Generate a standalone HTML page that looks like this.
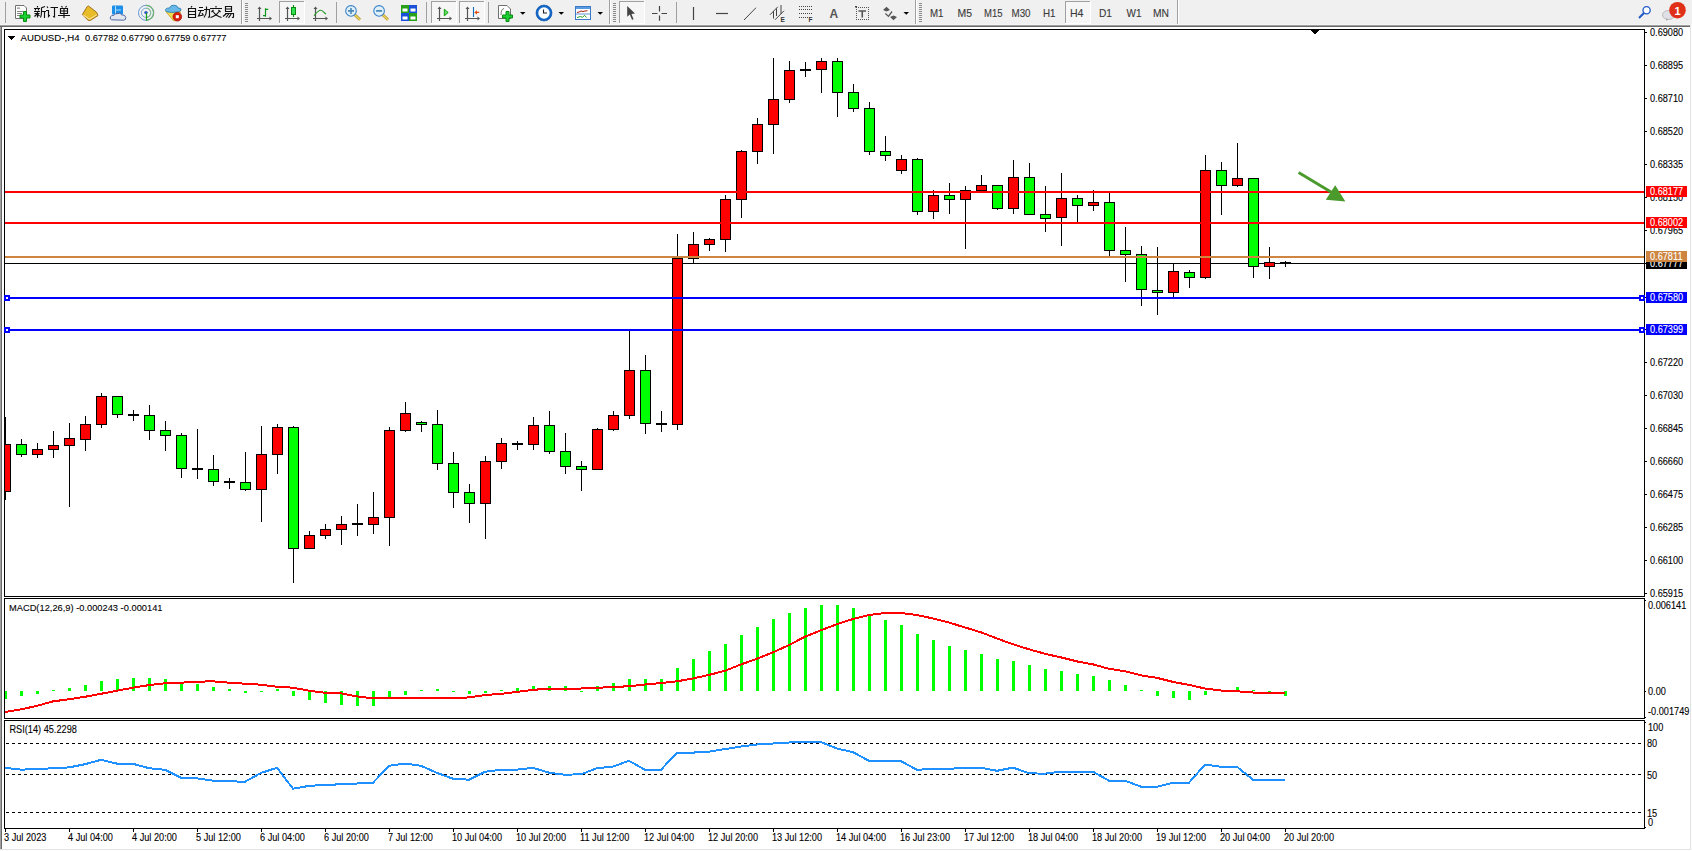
<!DOCTYPE html>
<html><head><meta charset="utf-8"><style>
html,body{margin:0;padding:0;width:1692px;height:851px;overflow:hidden;background:#f0f0f0;}
svg{position:absolute;left:0;top:0;}
text{font-family:"Liberation Sans",sans-serif;font-size:9.5px;white-space:pre;stroke-width:0.1px;}
</style></head><body>
<svg width="1692" height="851" viewBox="0 0 1692 851" shape-rendering="crispEdges">
<rect x="0" y="0" width="1692" height="24" fill="#f0f0f0"/>
<rect x="0" y="24" width="1692" height="1" fill="#f5f5f5"/>
<rect x="0" y="25" width="1690" height="1" fill="#a0a0a0"/>
<rect x="0" y="26" width="1690" height="1" fill="#696969"/>
<rect x="0" y="27" width="1" height="822" fill="#a0a0a0"/>
<rect x="1" y="27" width="1" height="822" fill="#696969"/>
<rect x="2" y="27" width="1688" height="822" fill="#fff"/>
<rect x="1690" y="25" width="1" height="825" fill="#e3e3e3"/>
<rect x="1691" y="25" width="1" height="826" fill="#fcfcfc"/>
<rect x="0" y="849" width="1691" height="1" fill="#e3e3e3"/>
<rect x="0" y="850" width="1692" height="1" fill="#fff"/>
<rect x="4" y="29" width="1641" height="568" fill="#fff"/>
<path d="M4.5 29.5H1644.5V596.5H4.5Z" fill="none" stroke="#000"/>
<path d="M4.5 598.5H1644.5V718.5H4.5Z" fill="none" stroke="#000"/>
<path d="M4.5 720.5H1644.5V828.5H4.5Z" fill="none" stroke="#000"/>
<defs><clipPath id="cm"><rect x="5" y="30" width="1639" height="566"/></clipPath><clipPath id="cmacd"><rect x="5" y="599" width="1639" height="119"/></clipPath><clipPath id="crsi"><rect x="5" y="721" width="1639" height="107"/></clipPath></defs>
<g clip-path="url(#cm)">
<rect x="5" y="263" width="1639" height="1" fill="#000"/>
<rect x="5" y="417" width="1" height="83" fill="#000"/>
<rect x="0" y="444" width="11" height="48" fill="#000"/>
<rect x="1" y="445" width="9" height="46" fill="#f00"/>
<rect x="21" y="439" width="1" height="18" fill="#000"/>
<rect x="16" y="444" width="11" height="11" fill="#000"/>
<rect x="17" y="445" width="9" height="9" fill="#0f0"/>
<rect x="37" y="443" width="1" height="15" fill="#000"/>
<rect x="32" y="449" width="11" height="6" fill="#000"/>
<rect x="33" y="450" width="9" height="4" fill="#f00"/>
<rect x="53" y="431" width="1" height="27" fill="#000"/>
<rect x="48" y="445" width="11" height="5" fill="#000"/>
<rect x="49" y="446" width="9" height="3" fill="#f00"/>
<rect x="69" y="423" width="1" height="84" fill="#000"/>
<rect x="64" y="438" width="11" height="8" fill="#000"/>
<rect x="65" y="439" width="9" height="6" fill="#f00"/>
<rect x="85" y="416" width="1" height="35" fill="#000"/>
<rect x="80" y="424" width="11" height="16" fill="#000"/>
<rect x="81" y="425" width="9" height="14" fill="#f00"/>
<rect x="101" y="393" width="1" height="35" fill="#000"/>
<rect x="96" y="396" width="11" height="29" fill="#000"/>
<rect x="97" y="397" width="9" height="27" fill="#f00"/>
<rect x="117" y="396" width="1" height="22" fill="#000"/>
<rect x="112" y="396" width="11" height="19" fill="#000"/>
<rect x="113" y="397" width="9" height="17" fill="#0f0"/>
<rect x="133" y="410" width="1" height="11" fill="#000"/>
<rect x="128" y="414" width="11" height="2" fill="#000"/>
<rect x="149" y="405" width="1" height="35" fill="#000"/>
<rect x="144" y="415" width="11" height="16" fill="#000"/>
<rect x="145" y="416" width="9" height="14" fill="#0f0"/>
<rect x="165" y="421" width="1" height="30" fill="#000"/>
<rect x="160" y="430" width="11" height="6" fill="#000"/>
<rect x="161" y="431" width="9" height="4" fill="#0f0"/>
<rect x="181" y="433" width="1" height="45" fill="#000"/>
<rect x="176" y="435" width="11" height="34" fill="#000"/>
<rect x="177" y="436" width="9" height="32" fill="#0f0"/>
<rect x="197" y="429" width="1" height="50" fill="#000"/>
<rect x="192" y="468" width="11" height="2" fill="#000"/>
<rect x="213" y="455" width="1" height="31" fill="#000"/>
<rect x="208" y="469" width="11" height="13" fill="#000"/>
<rect x="209" y="470" width="9" height="11" fill="#0f0"/>
<rect x="229" y="478" width="1" height="11" fill="#000"/>
<rect x="224" y="481" width="11" height="2" fill="#000"/>
<rect x="245" y="452" width="1" height="39" fill="#000"/>
<rect x="240" y="482" width="11" height="8" fill="#000"/>
<rect x="241" y="483" width="9" height="6" fill="#0f0"/>
<rect x="261" y="426" width="1" height="96" fill="#000"/>
<rect x="256" y="454" width="11" height="36" fill="#000"/>
<rect x="257" y="455" width="9" height="34" fill="#f00"/>
<rect x="277" y="424" width="1" height="50" fill="#000"/>
<rect x="272" y="427" width="11" height="28" fill="#000"/>
<rect x="273" y="428" width="9" height="26" fill="#f00"/>
<rect x="293" y="426" width="1" height="157" fill="#000"/>
<rect x="288" y="427" width="11" height="122" fill="#000"/>
<rect x="289" y="428" width="9" height="120" fill="#0f0"/>
<rect x="309" y="531" width="1" height="18" fill="#000"/>
<rect x="304" y="535" width="11" height="14" fill="#000"/>
<rect x="305" y="536" width="9" height="12" fill="#f00"/>
<rect x="325" y="524" width="1" height="15" fill="#000"/>
<rect x="320" y="529" width="11" height="7" fill="#000"/>
<rect x="321" y="530" width="9" height="5" fill="#f00"/>
<rect x="341" y="516" width="1" height="29" fill="#000"/>
<rect x="336" y="524" width="11" height="6" fill="#000"/>
<rect x="337" y="525" width="9" height="4" fill="#f00"/>
<rect x="357" y="504" width="1" height="32" fill="#000"/>
<rect x="352" y="523" width="11" height="2" fill="#000"/>
<rect x="373" y="492" width="1" height="42" fill="#000"/>
<rect x="368" y="517" width="11" height="8" fill="#000"/>
<rect x="369" y="518" width="9" height="6" fill="#f00"/>
<rect x="389" y="427" width="1" height="119" fill="#000"/>
<rect x="384" y="430" width="11" height="88" fill="#000"/>
<rect x="385" y="431" width="9" height="86" fill="#f00"/>
<rect x="405" y="402" width="1" height="30" fill="#000"/>
<rect x="400" y="413" width="11" height="18" fill="#000"/>
<rect x="401" y="414" width="9" height="16" fill="#f00"/>
<rect x="421" y="421" width="1" height="11" fill="#000"/>
<rect x="416" y="422" width="11" height="3" fill="#000"/>
<rect x="417" y="423" width="9" height="1" fill="#0f0"/>
<rect x="437" y="410" width="1" height="60" fill="#000"/>
<rect x="432" y="424" width="11" height="40" fill="#000"/>
<rect x="433" y="425" width="9" height="38" fill="#0f0"/>
<rect x="453" y="452" width="1" height="56" fill="#000"/>
<rect x="448" y="463" width="11" height="30" fill="#000"/>
<rect x="449" y="464" width="9" height="28" fill="#0f0"/>
<rect x="469" y="484" width="1" height="39" fill="#000"/>
<rect x="464" y="492" width="11" height="12" fill="#000"/>
<rect x="465" y="493" width="9" height="10" fill="#0f0"/>
<rect x="485" y="456" width="1" height="83" fill="#000"/>
<rect x="480" y="461" width="11" height="43" fill="#000"/>
<rect x="481" y="462" width="9" height="41" fill="#f00"/>
<rect x="501" y="438" width="1" height="31" fill="#000"/>
<rect x="496" y="443" width="11" height="19" fill="#000"/>
<rect x="497" y="444" width="9" height="17" fill="#f00"/>
<rect x="517" y="441" width="1" height="9" fill="#000"/>
<rect x="512" y="443" width="11" height="2" fill="#000"/>
<rect x="533" y="417" width="1" height="33" fill="#000"/>
<rect x="528" y="425" width="11" height="20" fill="#000"/>
<rect x="529" y="426" width="9" height="18" fill="#f00"/>
<rect x="549" y="411" width="1" height="43" fill="#000"/>
<rect x="544" y="425" width="11" height="27" fill="#000"/>
<rect x="545" y="426" width="9" height="25" fill="#0f0"/>
<rect x="565" y="433" width="1" height="41" fill="#000"/>
<rect x="560" y="451" width="11" height="16" fill="#000"/>
<rect x="561" y="452" width="9" height="14" fill="#0f0"/>
<rect x="581" y="461" width="1" height="30" fill="#000"/>
<rect x="576" y="466" width="11" height="4" fill="#000"/>
<rect x="577" y="467" width="9" height="2" fill="#0f0"/>
<rect x="597" y="428" width="1" height="42" fill="#000"/>
<rect x="592" y="429" width="11" height="41" fill="#000"/>
<rect x="593" y="430" width="9" height="39" fill="#f00"/>
<rect x="613" y="411" width="1" height="20" fill="#000"/>
<rect x="608" y="415" width="11" height="15" fill="#000"/>
<rect x="609" y="416" width="9" height="13" fill="#f00"/>
<rect x="629" y="331" width="1" height="88" fill="#000"/>
<rect x="624" y="370" width="11" height="46" fill="#000"/>
<rect x="625" y="371" width="9" height="44" fill="#f00"/>
<rect x="645" y="355" width="1" height="79" fill="#000"/>
<rect x="640" y="370" width="11" height="54" fill="#000"/>
<rect x="641" y="371" width="9" height="52" fill="#0f0"/>
<rect x="661" y="411" width="1" height="21" fill="#000"/>
<rect x="656" y="423" width="11" height="2" fill="#000"/>
<rect x="677" y="234" width="1" height="196" fill="#000"/>
<rect x="672" y="258" width="11" height="167" fill="#000"/>
<rect x="673" y="259" width="9" height="165" fill="#f00"/>
<rect x="693" y="232" width="1" height="31" fill="#000"/>
<rect x="688" y="244" width="11" height="15" fill="#000"/>
<rect x="689" y="245" width="9" height="13" fill="#f00"/>
<rect x="709" y="238" width="1" height="13" fill="#000"/>
<rect x="704" y="239" width="11" height="6" fill="#000"/>
<rect x="705" y="240" width="9" height="4" fill="#f00"/>
<rect x="725" y="195" width="1" height="57" fill="#000"/>
<rect x="720" y="199" width="11" height="41" fill="#000"/>
<rect x="721" y="200" width="9" height="39" fill="#f00"/>
<rect x="741" y="150" width="1" height="68" fill="#000"/>
<rect x="736" y="151" width="11" height="49" fill="#000"/>
<rect x="737" y="152" width="9" height="47" fill="#f00"/>
<rect x="757" y="118" width="1" height="46" fill="#000"/>
<rect x="752" y="124" width="11" height="28" fill="#000"/>
<rect x="753" y="125" width="9" height="26" fill="#f00"/>
<rect x="773" y="58" width="1" height="96" fill="#000"/>
<rect x="768" y="99" width="11" height="26" fill="#000"/>
<rect x="769" y="100" width="9" height="24" fill="#f00"/>
<rect x="789" y="61" width="1" height="42" fill="#000"/>
<rect x="784" y="70" width="11" height="30" fill="#000"/>
<rect x="785" y="71" width="9" height="28" fill="#f00"/>
<rect x="805" y="62" width="1" height="15" fill="#000"/>
<rect x="800" y="69" width="11" height="2" fill="#000"/>
<rect x="821" y="58" width="1" height="35" fill="#000"/>
<rect x="816" y="61" width="11" height="9" fill="#000"/>
<rect x="817" y="62" width="9" height="7" fill="#f00"/>
<rect x="837" y="58" width="1" height="59" fill="#000"/>
<rect x="832" y="61" width="11" height="32" fill="#000"/>
<rect x="833" y="62" width="9" height="30" fill="#0f0"/>
<rect x="853" y="84" width="1" height="28" fill="#000"/>
<rect x="848" y="92" width="11" height="17" fill="#000"/>
<rect x="849" y="93" width="9" height="15" fill="#0f0"/>
<rect x="869" y="102" width="1" height="53" fill="#000"/>
<rect x="864" y="108" width="11" height="44" fill="#000"/>
<rect x="865" y="109" width="9" height="42" fill="#0f0"/>
<rect x="885" y="136" width="1" height="25" fill="#000"/>
<rect x="880" y="151" width="11" height="5" fill="#000"/>
<rect x="881" y="152" width="9" height="3" fill="#0f0"/>
<rect x="901" y="155" width="1" height="19" fill="#000"/>
<rect x="896" y="159" width="11" height="12" fill="#000"/>
<rect x="897" y="160" width="9" height="10" fill="#f00"/>
<rect x="917" y="158" width="1" height="57" fill="#000"/>
<rect x="912" y="159" width="11" height="53" fill="#000"/>
<rect x="913" y="160" width="9" height="51" fill="#0f0"/>
<rect x="933" y="190" width="1" height="29" fill="#000"/>
<rect x="928" y="195" width="11" height="17" fill="#000"/>
<rect x="929" y="196" width="9" height="15" fill="#f00"/>
<rect x="949" y="183" width="1" height="31" fill="#000"/>
<rect x="944" y="195" width="11" height="5" fill="#000"/>
<rect x="945" y="196" width="9" height="3" fill="#0f0"/>
<rect x="965" y="186" width="1" height="63" fill="#000"/>
<rect x="960" y="190" width="11" height="10" fill="#000"/>
<rect x="961" y="191" width="9" height="8" fill="#f00"/>
<rect x="981" y="175" width="1" height="16" fill="#000"/>
<rect x="976" y="185" width="11" height="6" fill="#000"/>
<rect x="977" y="186" width="9" height="4" fill="#f00"/>
<rect x="997" y="185" width="1" height="25" fill="#000"/>
<rect x="992" y="185" width="11" height="24" fill="#000"/>
<rect x="993" y="186" width="9" height="22" fill="#0f0"/>
<rect x="1013" y="160" width="1" height="54" fill="#000"/>
<rect x="1008" y="177" width="11" height="32" fill="#000"/>
<rect x="1009" y="178" width="9" height="30" fill="#f00"/>
<rect x="1029" y="163" width="1" height="52" fill="#000"/>
<rect x="1024" y="177" width="11" height="38" fill="#000"/>
<rect x="1025" y="178" width="9" height="36" fill="#0f0"/>
<rect x="1045" y="186" width="1" height="46" fill="#000"/>
<rect x="1040" y="214" width="11" height="5" fill="#000"/>
<rect x="1041" y="215" width="9" height="3" fill="#0f0"/>
<rect x="1061" y="173" width="1" height="73" fill="#000"/>
<rect x="1056" y="198" width="11" height="20" fill="#000"/>
<rect x="1057" y="199" width="9" height="18" fill="#f00"/>
<rect x="1077" y="195" width="1" height="27" fill="#000"/>
<rect x="1072" y="198" width="11" height="8" fill="#000"/>
<rect x="1073" y="199" width="9" height="6" fill="#0f0"/>
<rect x="1093" y="190" width="1" height="21" fill="#000"/>
<rect x="1088" y="202" width="11" height="4" fill="#000"/>
<rect x="1089" y="203" width="9" height="2" fill="#f00"/>
<rect x="1109" y="193" width="1" height="63" fill="#000"/>
<rect x="1104" y="202" width="11" height="49" fill="#000"/>
<rect x="1105" y="203" width="9" height="47" fill="#0f0"/>
<rect x="1125" y="227" width="1" height="55" fill="#000"/>
<rect x="1120" y="250" width="11" height="5" fill="#000"/>
<rect x="1121" y="251" width="9" height="3" fill="#0f0"/>
<rect x="1141" y="246" width="1" height="60" fill="#000"/>
<rect x="1136" y="254" width="11" height="36" fill="#000"/>
<rect x="1137" y="255" width="9" height="34" fill="#0f0"/>
<rect x="1157" y="247" width="1" height="68" fill="#000"/>
<rect x="1152" y="290" width="11" height="3" fill="#000"/>
<rect x="1153" y="291" width="9" height="1" fill="#0f0"/>
<rect x="1173" y="264" width="1" height="33" fill="#000"/>
<rect x="1168" y="271" width="11" height="22" fill="#000"/>
<rect x="1169" y="272" width="9" height="20" fill="#f00"/>
<rect x="1189" y="270" width="1" height="18" fill="#000"/>
<rect x="1184" y="272" width="11" height="6" fill="#000"/>
<rect x="1185" y="273" width="9" height="4" fill="#0f0"/>
<rect x="1205" y="155" width="1" height="124" fill="#000"/>
<rect x="1200" y="170" width="11" height="108" fill="#000"/>
<rect x="1201" y="171" width="9" height="106" fill="#f00"/>
<rect x="1221" y="162" width="1" height="53" fill="#000"/>
<rect x="1216" y="170" width="11" height="16" fill="#000"/>
<rect x="1217" y="171" width="9" height="14" fill="#0f0"/>
<rect x="1237" y="143" width="1" height="44" fill="#000"/>
<rect x="1232" y="178" width="11" height="8" fill="#000"/>
<rect x="1233" y="179" width="9" height="6" fill="#f00"/>
<rect x="1253" y="178" width="1" height="100" fill="#000"/>
<rect x="1248" y="178" width="11" height="89" fill="#000"/>
<rect x="1249" y="179" width="9" height="87" fill="#0f0"/>
<rect x="1269" y="247" width="1" height="32" fill="#000"/>
<rect x="1264" y="262" width="11" height="5" fill="#000"/>
<rect x="1265" y="263" width="9" height="3" fill="#f00"/>
<rect x="1285" y="261" width="1" height="6" fill="#000"/>
<rect x="1280" y="262" width="11" height="2" fill="#000"/>
<rect x="5" y="191" width="1639" height="2" fill="#f00"/>
<rect x="5" y="222" width="1639" height="2" fill="#f00"/>
<rect x="5" y="256" width="1639" height="2" fill="#cd853f"/>
<rect x="5" y="297" width="1639" height="2" fill="#00f"/>
<rect x="5" y="329" width="1639" height="2" fill="#00f"/>
</g>
<rect x="4" y="295" width="6" height="6" fill="#00f"/><rect x="6" y="297" width="2" height="2" fill="#fff"/>
<rect x="1639" y="295" width="6" height="6" fill="#00f"/><rect x="1641" y="297" width="2" height="2" fill="#fff"/>
<rect x="4" y="327" width="6" height="6" fill="#00f"/><rect x="6" y="329" width="2" height="2" fill="#fff"/>
<rect x="1639" y="327" width="6" height="6" fill="#00f"/><rect x="1641" y="329" width="2" height="2" fill="#fff"/>
<path d="M1310 29H1320L1315 35Z" fill="#000"/>
<line x1="1298.6" y1="172.6" x2="1331" y2="192" stroke="#4a9a2c" stroke-width="2.9" shape-rendering="geometricPrecision"/>
<path d="M1335.2 185.2L1325.8 199.8L1345.4 201.4Z" fill="#4a9a2c" shape-rendering="geometricPrecision"/>
<g clip-path="url(#cmacd)">
<rect x="4" y="691" width="3" height="8" fill="#0f0"/>
<rect x="20" y="691" width="3" height="5" fill="#0f0"/>
<rect x="36" y="691" width="3" height="3" fill="#0f0"/>
<rect x="52" y="690" width="3" height="1" fill="#0f0"/>
<rect x="68" y="688" width="3" height="3" fill="#0f0"/>
<rect x="84" y="685" width="3" height="6" fill="#0f0"/>
<rect x="100" y="681" width="3" height="10" fill="#0f0"/>
<rect x="116" y="679" width="3" height="12" fill="#0f0"/>
<rect x="132" y="678" width="3" height="13" fill="#0f0"/>
<rect x="148" y="678" width="3" height="13" fill="#0f0"/>
<rect x="164" y="679" width="3" height="12" fill="#0f0"/>
<rect x="180" y="683" width="3" height="8" fill="#0f0"/>
<rect x="196" y="684" width="3" height="7" fill="#0f0"/>
<rect x="212" y="687" width="3" height="4" fill="#0f0"/>
<rect x="228" y="689" width="3" height="2" fill="#0f0"/>
<rect x="244" y="691" width="3" height="2" fill="#0f0"/>
<rect x="260" y="691" width="3" height="1" fill="#0f0"/>
<rect x="276" y="689" width="3" height="2" fill="#0f0"/>
<rect x="292" y="691" width="3" height="5" fill="#0f0"/>
<rect x="308" y="691" width="3" height="9" fill="#0f0"/>
<rect x="324" y="691" width="3" height="12" fill="#0f0"/>
<rect x="340" y="691" width="3" height="14" fill="#0f0"/>
<rect x="356" y="691" width="3" height="15" fill="#0f0"/>
<rect x="372" y="691" width="3" height="15" fill="#0f0"/>
<rect x="388" y="691" width="3" height="8" fill="#0f0"/>
<rect x="404" y="691" width="3" height="4" fill="#0f0"/>
<rect x="420" y="690" width="3" height="1" fill="#0f0"/>
<rect x="436" y="689" width="3" height="2" fill="#0f0"/>
<rect x="452" y="691" width="3" height="1" fill="#0f0"/>
<rect x="468" y="691" width="3" height="3" fill="#0f0"/>
<rect x="484" y="691" width="3" height="2" fill="#0f0"/>
<rect x="500" y="690" width="3" height="1" fill="#0f0"/>
<rect x="516" y="688" width="3" height="3" fill="#0f0"/>
<rect x="532" y="686" width="3" height="5" fill="#0f0"/>
<rect x="548" y="686" width="3" height="5" fill="#0f0"/>
<rect x="564" y="686" width="3" height="5" fill="#0f0"/>
<rect x="580" y="691" width="3" height="1" fill="#0f0"/>
<rect x="596" y="686" width="3" height="5" fill="#0f0"/>
<rect x="612" y="683" width="3" height="8" fill="#0f0"/>
<rect x="628" y="679" width="3" height="12" fill="#0f0"/>
<rect x="644" y="679" width="3" height="12" fill="#0f0"/>
<rect x="660" y="679" width="3" height="12" fill="#0f0"/>
<rect x="676" y="668" width="3" height="23" fill="#0f0"/>
<rect x="692" y="659" width="3" height="32" fill="#0f0"/>
<rect x="708" y="651" width="3" height="40" fill="#0f0"/>
<rect x="724" y="644" width="3" height="47" fill="#0f0"/>
<rect x="740" y="635" width="3" height="56" fill="#0f0"/>
<rect x="756" y="627" width="3" height="64" fill="#0f0"/>
<rect x="772" y="619" width="3" height="72" fill="#0f0"/>
<rect x="788" y="613" width="3" height="78" fill="#0f0"/>
<rect x="804" y="608" width="3" height="83" fill="#0f0"/>
<rect x="820" y="605" width="3" height="86" fill="#0f0"/>
<rect x="836" y="605" width="3" height="86" fill="#0f0"/>
<rect x="852" y="608" width="3" height="83" fill="#0f0"/>
<rect x="868" y="614" width="3" height="77" fill="#0f0"/>
<rect x="884" y="620" width="3" height="71" fill="#0f0"/>
<rect x="900" y="625" width="3" height="66" fill="#0f0"/>
<rect x="916" y="634" width="3" height="57" fill="#0f0"/>
<rect x="932" y="640" width="3" height="51" fill="#0f0"/>
<rect x="948" y="646" width="3" height="45" fill="#0f0"/>
<rect x="964" y="650" width="3" height="41" fill="#0f0"/>
<rect x="980" y="654" width="3" height="37" fill="#0f0"/>
<rect x="996" y="659" width="3" height="32" fill="#0f0"/>
<rect x="1012" y="661" width="3" height="30" fill="#0f0"/>
<rect x="1028" y="665" width="3" height="26" fill="#0f0"/>
<rect x="1044" y="669" width="3" height="22" fill="#0f0"/>
<rect x="1060" y="671" width="3" height="20" fill="#0f0"/>
<rect x="1076" y="674" width="3" height="17" fill="#0f0"/>
<rect x="1092" y="676" width="3" height="15" fill="#0f0"/>
<rect x="1108" y="680" width="3" height="11" fill="#0f0"/>
<rect x="1124" y="685" width="3" height="6" fill="#0f0"/>
<rect x="1140" y="690" width="3" height="1" fill="#0f0"/>
<rect x="1156" y="691" width="3" height="5" fill="#0f0"/>
<rect x="1172" y="691" width="3" height="7" fill="#0f0"/>
<rect x="1188" y="691" width="3" height="9" fill="#0f0"/>
<rect x="1204" y="691" width="3" height="4" fill="#0f0"/>
<rect x="1236" y="687" width="3" height="4" fill="#0f0"/>
<rect x="1252" y="690" width="3" height="1" fill="#0f0"/>
<rect x="1268" y="691" width="3" height="1" fill="#0f0"/>
<rect x="1284" y="691" width="3" height="5" fill="#0f0"/>
<polyline points="5,712.00 21,709.40 37,705.80 53,701.40 69,699.20 85,696.80 101,693.80 117,690.70 133,687.70 149,685.10 165,683.30 181,682.70 197,681.70 213,681.30 229,682.70 245,683.70 261,684.70 277,686.70 293,687.70 309,690.70 325,692.80 341,693.30 357,696.40 373,698.40 389,698.40 405,698.40 421,698.40 437,698.40 453,698.40 469,697.40 485,695.00 501,693.90 517,691.90 533,689.90 549,688.50 565,688.50 581,688.50 597,687.90 613,686.90 629,686.30 645,684.50 661,683.10 677,681.30 693,678.50 709,674.90 725,670.80 741,664.40 757,658.80 773,652.30 789,645.10 805,636.70 821,630.20 837,624.20 853,619.00 869,615.00 885,613.00 901,613.00 917,615.00 933,618.50 949,622.50 965,627.50 981,632.30 997,638.50 1013,644.30 1029,649.30 1045,653.80 1061,657.40 1077,661.40 1093,664.40 1109,668.80 1125,671.20 1141,675.30 1157,677.90 1173,681.90 1189,684.90 1205,688.50 1221,690.50 1237,691.30 1253,692.50 1269,692.50 1285,692.50" fill="none" stroke="#f00" stroke-width="2"/>
</g>
<g clip-path="url(#crsi)">
<line x1="6" y1="743.5" x2="1644" y2="743.5" stroke="#000" stroke-dasharray="3 3"/>
<line x1="6" y1="774.5" x2="1644" y2="774.5" stroke="#000" stroke-dasharray="3 3"/>
<line x1="6" y1="812.5" x2="1644" y2="812.5" stroke="#000" stroke-dasharray="3 3"/>
<polyline points="5,767.8 21,769.6 37,769.2 53,768.2 69,767.4 85,764.2 101,759.8 117,763.6 133,763.8 149,768.2 165,769.8 181,777.7 197,778.3 213,780.7 229,781.3 245,781.7 261,772.9 277,767.8 293,788.7 309,785.9 325,784.9 341,784.3 357,783.5 373,782.7 389,765.8 405,763.6 421,765.8 437,772.9 453,778.7 469,779.7 485,771.8 501,769.8 517,769.6 533,767.8 549,772.7 565,774.7 581,774.3 597,768.2 613,766.6 629,760.8 645,769.8 661,769.8 677,752.6 693,752.6 709,751.6 725,749.1 741,746.5 757,744.5 773,743.5 789,742.5 805,742.1 821,742.1 837,748.5 853,752.2 869,760.8 885,760.8 901,761.2 917,769.8 933,768.8 949,768.8 965,767.8 981,767.8 997,770.8 1013,767.6 1029,773.3 1045,773.7 1061,771.6 1077,771.6 1093,771.8 1109,780.7 1125,780.7 1141,786.7 1157,786.7 1173,782.7 1189,782.7 1205,764.6 1221,766.8 1237,766.8 1253,779.7 1269,779.7 1285,779.7" fill="none" stroke="#1e90ff" stroke-width="2"/>
</g>
<rect x="1645" y="32" width="2" height="1" fill="#000"/>
<rect x="1645" y="65" width="2" height="1" fill="#000"/>
<rect x="1645" y="98" width="2" height="1" fill="#000"/>
<rect x="1645" y="131" width="2" height="1" fill="#000"/>
<rect x="1645" y="164" width="2" height="1" fill="#000"/>
<rect x="1645" y="197" width="2" height="1" fill="#000"/>
<rect x="1645" y="230" width="2" height="1" fill="#000"/>
<rect x="1645" y="362" width="2" height="1" fill="#000"/>
<rect x="1645" y="395" width="2" height="1" fill="#000"/>
<rect x="1645" y="428" width="2" height="1" fill="#000"/>
<rect x="1645" y="461" width="2" height="1" fill="#000"/>
<rect x="1645" y="494" width="2" height="1" fill="#000"/>
<rect x="1645" y="527" width="2" height="1" fill="#000"/>
<rect x="1645" y="560" width="2" height="1" fill="#000"/>
<rect x="1645" y="593" width="2" height="1" fill="#000"/>
<rect x="1645" y="263" width="2" height="1" fill="#000"/>
<rect x="1645" y="297" width="2" height="1" fill="#000"/>
<rect x="1645" y="329" width="2" height="1" fill="#000"/>
<rect x="1645" y="600" width="1" height="1" fill="#000"/>
<rect x="1645" y="691" width="1" height="1" fill="#000"/>
<rect x="1645" y="717" width="1" height="1" fill="#000"/>
<rect x="1645" y="722" width="1" height="1" fill="#000"/>
<rect x="1645" y="827" width="1" height="1" fill="#000"/>
<rect x="5" y="829" width="1" height="3" fill="#000"/>
<rect x="69" y="829" width="1" height="3" fill="#000"/>
<rect x="133" y="829" width="1" height="3" fill="#000"/>
<rect x="197" y="829" width="1" height="3" fill="#000"/>
<rect x="261" y="829" width="1" height="3" fill="#000"/>
<rect x="325" y="829" width="1" height="3" fill="#000"/>
<rect x="389" y="829" width="1" height="3" fill="#000"/>
<rect x="453" y="829" width="1" height="3" fill="#000"/>
<rect x="517" y="829" width="1" height="3" fill="#000"/>
<rect x="581" y="829" width="1" height="3" fill="#000"/>
<rect x="645" y="829" width="1" height="3" fill="#000"/>
<rect x="709" y="829" width="1" height="3" fill="#000"/>
<rect x="773" y="829" width="1" height="3" fill="#000"/>
<rect x="837" y="829" width="1" height="3" fill="#000"/>
<rect x="901" y="829" width="1" height="3" fill="#000"/>
<rect x="965" y="829" width="1" height="3" fill="#000"/>
<rect x="1029" y="829" width="1" height="3" fill="#000"/>
<rect x="1093" y="829" width="1" height="3" fill="#000"/>
<rect x="1157" y="829" width="1" height="3" fill="#000"/>
<rect x="1221" y="829" width="1" height="3" fill="#000"/>
<rect x="1285" y="829" width="1" height="3" fill="#000"/>
<text x="20.5" y="41" fill="#000" stroke="#000" textLength="59" lengthAdjust="spacingAndGlyphs">AUDUSD-,H4</text>
<text x="85" y="41" fill="#000" stroke="#000" textLength="141.5" lengthAdjust="spacingAndGlyphs">0.67782 0.67790 0.67759 0.67777</text>
<text x="9" y="611" fill="#000" stroke="#000" textLength="153.5" lengthAdjust="spacingAndGlyphs">MACD(12,26,9) -0.000243 -0.000141</text>
<text x="9.5" y="733" fill="#000" stroke="#000" textLength="67.36" lengthAdjust="spacingAndGlyphs" transform="matrix(1 0 0 1.06 0 -43.980)">RSI(14) 45.2298</text>
<path d="M8 36H15L11.5 40Z" fill="#000"/>
<text x="1650" y="36" fill="#000" stroke="#000" textLength="33.18" lengthAdjust="spacingAndGlyphs" transform="matrix(1 0 0 1.06 0 -2.160)">0.69080</text>
<text x="1650" y="69" fill="#000" stroke="#000" textLength="33.18" lengthAdjust="spacingAndGlyphs" transform="matrix(1 0 0 1.06 0 -4.140)">0.68895</text>
<text x="1650" y="102" fill="#000" stroke="#000" textLength="33.18" lengthAdjust="spacingAndGlyphs" transform="matrix(1 0 0 1.06 0 -6.120)">0.68710</text>
<text x="1650" y="135" fill="#000" stroke="#000" textLength="33.18" lengthAdjust="spacingAndGlyphs" transform="matrix(1 0 0 1.06 0 -8.100)">0.68520</text>
<text x="1650" y="168" fill="#000" stroke="#000" textLength="33.18" lengthAdjust="spacingAndGlyphs" transform="matrix(1 0 0 1.06 0 -10.080)">0.68335</text>
<text x="1650" y="201" fill="#000" stroke="#000" textLength="33.18" lengthAdjust="spacingAndGlyphs" transform="matrix(1 0 0 1.06 0 -12.060)">0.68150</text>
<text x="1650" y="234" fill="#000" stroke="#000" textLength="33.18" lengthAdjust="spacingAndGlyphs" transform="matrix(1 0 0 1.06 0 -14.040)">0.67965</text>
<text x="1650" y="366" fill="#000" stroke="#000" textLength="33.18" lengthAdjust="spacingAndGlyphs" transform="matrix(1 0 0 1.06 0 -21.960)">0.67220</text>
<text x="1650" y="399" fill="#000" stroke="#000" textLength="33.18" lengthAdjust="spacingAndGlyphs" transform="matrix(1 0 0 1.06 0 -23.940)">0.67030</text>
<text x="1650" y="432" fill="#000" stroke="#000" textLength="33.18" lengthAdjust="spacingAndGlyphs" transform="matrix(1 0 0 1.06 0 -25.920)">0.66845</text>
<text x="1650" y="465" fill="#000" stroke="#000" textLength="33.18" lengthAdjust="spacingAndGlyphs" transform="matrix(1 0 0 1.06 0 -27.900)">0.66660</text>
<text x="1650" y="498" fill="#000" stroke="#000" textLength="33.18" lengthAdjust="spacingAndGlyphs" transform="matrix(1 0 0 1.06 0 -29.880)">0.66475</text>
<text x="1650" y="531" fill="#000" stroke="#000" textLength="33.18" lengthAdjust="spacingAndGlyphs" transform="matrix(1 0 0 1.06 0 -31.860)">0.66285</text>
<text x="1650" y="564" fill="#000" stroke="#000" textLength="33.18" lengthAdjust="spacingAndGlyphs" transform="matrix(1 0 0 1.06 0 -33.840)">0.66100</text>
<text x="1650" y="597" fill="#000" stroke="#000" textLength="33.18" lengthAdjust="spacingAndGlyphs" transform="matrix(1 0 0 1.06 0 -35.820)">0.65915</text>
<text x="1648" y="609" fill="#000" stroke="#000" textLength="38.28" lengthAdjust="spacingAndGlyphs" transform="matrix(1 0 0 1.06 0 -36.540)">0.006141</text>
<text x="1648" y="695" fill="#000" stroke="#000" textLength="17.86" lengthAdjust="spacingAndGlyphs" transform="matrix(1 0 0 1.06 0 -41.700)">0.00</text>
<text x="1648" y="715" fill="#000" stroke="#000" textLength="41.34" lengthAdjust="spacingAndGlyphs" transform="matrix(1 0 0 1.06 0 -42.900)">-0.001749</text>
<text x="1648" y="731" fill="#000" stroke="#000" textLength="15.31" lengthAdjust="spacingAndGlyphs" transform="matrix(1 0 0 1.06 0 -43.860)">100</text>
<text x="1647" y="747" fill="#000" stroke="#000" textLength="10.21" lengthAdjust="spacingAndGlyphs" transform="matrix(1 0 0 1.06 0 -44.820)">80</text>
<text x="1647" y="779" fill="#000" stroke="#000" textLength="10.21" lengthAdjust="spacingAndGlyphs" transform="matrix(1 0 0 1.06 0 -46.740)">50</text>
<text x="1647" y="817" fill="#000" stroke="#000" textLength="10.21" lengthAdjust="spacingAndGlyphs" transform="matrix(1 0 0 1.06 0 -49.020)">15</text>
<text x="1648" y="826" fill="#000" stroke="#000" textLength="5.10" lengthAdjust="spacingAndGlyphs" transform="matrix(1 0 0 1.06 0 -49.560)">0</text>
<text x="4" y="841" fill="#000" stroke="#000" textLength="42.36" lengthAdjust="spacingAndGlyphs" transform="matrix(1 0 0 1.06 0 -50.460)">3 Jul 2023</text>
<text x="68" y="841" fill="#000" stroke="#000" textLength="44.91" lengthAdjust="spacingAndGlyphs" transform="matrix(1 0 0 1.06 0 -50.460)">4 Jul 04:00</text>
<text x="132" y="841" fill="#000" stroke="#000" textLength="44.91" lengthAdjust="spacingAndGlyphs" transform="matrix(1 0 0 1.06 0 -50.460)">4 Jul 20:00</text>
<text x="196" y="841" fill="#000" stroke="#000" textLength="44.91" lengthAdjust="spacingAndGlyphs" transform="matrix(1 0 0 1.06 0 -50.460)">5 Jul 12:00</text>
<text x="260" y="841" fill="#000" stroke="#000" textLength="44.91" lengthAdjust="spacingAndGlyphs" transform="matrix(1 0 0 1.06 0 -50.460)">6 Jul 04:00</text>
<text x="324" y="841" fill="#000" stroke="#000" textLength="44.91" lengthAdjust="spacingAndGlyphs" transform="matrix(1 0 0 1.06 0 -50.460)">6 Jul 20:00</text>
<text x="388" y="841" fill="#000" stroke="#000" textLength="44.91" lengthAdjust="spacingAndGlyphs" transform="matrix(1 0 0 1.06 0 -50.460)">7 Jul 12:00</text>
<text x="452" y="841" fill="#000" stroke="#000" textLength="50.01" lengthAdjust="spacingAndGlyphs" transform="matrix(1 0 0 1.06 0 -50.460)">10 Jul 04:00</text>
<text x="516" y="841" fill="#000" stroke="#000" textLength="50.01" lengthAdjust="spacingAndGlyphs" transform="matrix(1 0 0 1.06 0 -50.460)">10 Jul 20:00</text>
<text x="580" y="841" fill="#000" stroke="#000" textLength="49.33" lengthAdjust="spacingAndGlyphs" transform="matrix(1 0 0 1.06 0 -50.460)">11 Jul 12:00</text>
<text x="644" y="841" fill="#000" stroke="#000" textLength="50.01" lengthAdjust="spacingAndGlyphs" transform="matrix(1 0 0 1.06 0 -50.460)">12 Jul 04:00</text>
<text x="708" y="841" fill="#000" stroke="#000" textLength="50.01" lengthAdjust="spacingAndGlyphs" transform="matrix(1 0 0 1.06 0 -50.460)">12 Jul 20:00</text>
<text x="772" y="841" fill="#000" stroke="#000" textLength="50.01" lengthAdjust="spacingAndGlyphs" transform="matrix(1 0 0 1.06 0 -50.460)">13 Jul 12:00</text>
<text x="836" y="841" fill="#000" stroke="#000" textLength="50.01" lengthAdjust="spacingAndGlyphs" transform="matrix(1 0 0 1.06 0 -50.460)">14 Jul 04:00</text>
<text x="900" y="841" fill="#000" stroke="#000" textLength="50.01" lengthAdjust="spacingAndGlyphs" transform="matrix(1 0 0 1.06 0 -50.460)">16 Jul 23:00</text>
<text x="964" y="841" fill="#000" stroke="#000" textLength="50.01" lengthAdjust="spacingAndGlyphs" transform="matrix(1 0 0 1.06 0 -50.460)">17 Jul 12:00</text>
<text x="1028" y="841" fill="#000" stroke="#000" textLength="50.01" lengthAdjust="spacingAndGlyphs" transform="matrix(1 0 0 1.06 0 -50.460)">18 Jul 04:00</text>
<text x="1092" y="841" fill="#000" stroke="#000" textLength="50.01" lengthAdjust="spacingAndGlyphs" transform="matrix(1 0 0 1.06 0 -50.460)">18 Jul 20:00</text>
<text x="1156" y="841" fill="#000" stroke="#000" textLength="50.01" lengthAdjust="spacingAndGlyphs" transform="matrix(1 0 0 1.06 0 -50.460)">19 Jul 12:00</text>
<text x="1220" y="841" fill="#000" stroke="#000" textLength="50.01" lengthAdjust="spacingAndGlyphs" transform="matrix(1 0 0 1.06 0 -50.460)">20 Jul 04:00</text>
<text x="1284" y="841" fill="#000" stroke="#000" textLength="50.01" lengthAdjust="spacingAndGlyphs" transform="matrix(1 0 0 1.06 0 -50.460)">20 Jul 20:00</text>
<rect x="1646" y="186" width="41" height="11" fill="#f00"/>
<text x="1650" y="195" fill="#fff" stroke="#fff" textLength="33.18" lengthAdjust="spacingAndGlyphs" transform="matrix(1 0 0 1.06 0 -11.700)">0.68177</text>
<rect x="1646" y="217" width="41" height="11" fill="#f00"/>
<text x="1650" y="226" fill="#fff" stroke="#fff" textLength="33.18" lengthAdjust="spacingAndGlyphs" transform="matrix(1 0 0 1.06 0 -13.560)">0.68002</text>
<rect x="1646" y="258" width="41" height="11" fill="#000"/>
<text x="1650" y="267" fill="#fff" stroke="#fff" textLength="33.18" lengthAdjust="spacingAndGlyphs" transform="matrix(1 0 0 1.06 0 -16.020)">0.67777</text>
<rect x="1646" y="251" width="41" height="11" fill="#cd853f"/>
<text x="1650" y="260" fill="#fff" stroke="#fff" textLength="32.50" lengthAdjust="spacingAndGlyphs" transform="matrix(1 0 0 1.06 0 -15.600)">0.67811</text>
<rect x="1646" y="292" width="41" height="11" fill="#00f"/>
<text x="1650" y="301" fill="#fff" stroke="#fff" textLength="33.18" lengthAdjust="spacingAndGlyphs" transform="matrix(1 0 0 1.06 0 -18.060)">0.67580</text>
<rect x="1646" y="324" width="41" height="11" fill="#00f"/>
<text x="1650" y="333" fill="#fff" stroke="#fff" textLength="33.18" lengthAdjust="spacingAndGlyphs" transform="matrix(1 0 0 1.06 0 -19.980)">0.67399</text>
<g id="toolbar">
<!-- grips & separators -->
<rect x="5" y="2" width="1" height="21" fill="#a0a0a0"/>
<rect x="241" y="0" width="1" height="24" fill="#a0a0a0"/><rect x="242" y="0" width="1" height="24" fill="#fff"/>
<rect x="609" y="0" width="1" height="24" fill="#a0a0a0"/><rect x="610" y="0" width="1" height="24" fill="#fff"/>
<rect x="915" y="0" width="1" height="24" fill="#a0a0a0"/><rect x="916" y="0" width="1" height="24" fill="#fff"/>
<rect x="1177" y="0" width="1" height="24" fill="#a0a0a0"/><rect x="1178" y="0" width="1" height="24" fill="#fff"/>
<g fill="#8a8a8a">
<path d="M245 3h3v1h-3zM245 5h3v1h-3zM245 7h3v1h-3zM245 9h3v1h-3zM245 11h3v1h-3zM245 13h3v1h-3zM245 15h3v1h-3zM245 17h3v1h-3zM245 19h3v1h-3zM245 21h3v1h-3z"/>
<path d="M613 3h3v1h-3zM613 5h3v1h-3zM613 7h3v1h-3zM613 9h3v1h-3zM613 11h3v1h-3zM613 13h3v1h-3zM613 15h3v1h-3zM613 17h3v1h-3zM613 19h3v1h-3zM613 21h3v1h-3z"/>
<path d="M919 3h3v1h-3zM919 5h3v1h-3zM919 7h3v1h-3zM919 9h3v1h-3zM919 11h3v1h-3zM919 13h3v1h-3zM919 15h3v1h-3zM919 17h3v1h-3zM919 19h3v1h-3zM919 21h3v1h-3z"/>
</g>
<g fill="#a0a0a0">
<rect x="336" y="2" width="1" height="21"/><rect x="426" y="2" width="1" height="21"/><rect x="488" y="2" width="1" height="21"/><rect x="676" y="2" width="1" height="21"/>
</g>
<!-- pressed buttons -->
<g>
<rect x="279" y="1" width="26" height="23" fill="#fff"/><rect x="279" y="1" width="25" height="22" fill="#a0a0a0"/><rect x="280" y="2" width="24" height="21" fill="#f6f6f6"/>
<rect x="431" y="1" width="26" height="23" fill="#fff"/><rect x="431" y="1" width="25" height="22" fill="#a0a0a0"/><rect x="432" y="2" width="24" height="21" fill="#f6f6f6"/>
<rect x="459" y="1" width="26" height="23" fill="#fff"/><rect x="459" y="1" width="25" height="22" fill="#a0a0a0"/><rect x="460" y="2" width="24" height="21" fill="#f6f6f6"/>
<rect x="619" y="1" width="26" height="23" fill="#fff"/><rect x="619" y="1" width="25" height="22" fill="#a0a0a0"/><rect x="620" y="2" width="24" height="21" fill="#f6f6f6"/>
<rect x="1065" y="1" width="26" height="23" fill="#fff"/><rect x="1065" y="1" width="25" height="22" fill="#a0a0a0"/><rect x="1066" y="2" width="24" height="21" fill="#f6f6f6"/>
</g>
<g shape-rendering="geometricPrecision">
<!-- new order doc -->
<path d="M15.5 5.5H24L26.5 8V18.5H15.5Z" fill="#fff" stroke="#707070"/>
<rect x="17" y="7.5" width="3" height="1.2" fill="#888"/>
<path d="M17 11.5H23M17 13.5H22M17 15.5H20" stroke="#777" stroke-width="0.9"/>
<path d="M23.5 11.5h3v3.5h3.5v3h-3.5v3.5h-3v-3.5h-3.5v-3h3.5z" fill="#18d030" stroke="#0a8a10" stroke-width="1"/>
<!-- CJK 新订单 -->
<g fill="none" stroke="#111" stroke-width="1.15">
<g transform="translate(34,6)"><path d="M3.5 0V1.5M0 2.5H6M1.5 3V4.5M4.5 3V4.5M0 5.5H6M0.5 7.5H5.5M3.5 5V11.5M3 8L0.5 10.5M4 8.5L5.5 10M11 0.5L7.5 1.8M7.5 1.5V6Q7.5 9.5 6.5 11.5M7.5 5.5H12M10.5 5.5V12"/></g>
<g transform="translate(46,6)"><path d="M1 0.5L2 1.8M0 4.5H2.5V10.5L3.8 9.2M4.5 1.5H12M8.5 1.5V11L7 10.5"/></g>
<g transform="translate(58,6)"><path d="M3.5 0L4.5 1.5M8.5 0L7.5 1.5M2.5 2.5H9.5V7.5H2.5ZM2.5 5H9.5M6 2.5V12M0 9.5H12"/></g>
</g>
<!-- gold book -->
<path d="M82.3 14.6L87.3 6.4L88.5 6L96.5 12.2L98 15.5L90.3 20.5L88 20.2Z" fill="#e8bc28" stroke="#9a6410" stroke-width="0.9"/>
<path d="M83.5 15.2L89.5 19.2L96.8 14.6" fill="none" stroke="#f6e29a" stroke-width="1.1"/>
<!-- blue box + cloud -->
<rect x="112" y="5.5" width="11" height="9" rx="1" fill="#1a8ee8"/>
<path d="M115.5 6V14M116 10H121" stroke="#bfe6ff" stroke-width="0.9"/>
<path d="M111.5 19.8Q109.5 19.5 110.5 16.8Q111.5 14.8 113.8 15.4Q115 13 118 13.6Q120 12 121.5 14.8Q125.5 14.6 125.8 17.5Q126 20.2 123.5 20.2Z" fill="#e2e6ee" stroke="#40589a" stroke-width="0.9"/>
<!-- radar -->
<circle cx="146" cy="12.8" r="7.5" fill="none" stroke="#6a98d8" stroke-width="1"/>
<circle cx="146" cy="12.8" r="4.6" fill="none" stroke="#7aa6d8" stroke-width="1"/>
<path d="M146 5.3A7.5 7.5 0 0 1 146.4 20.3" fill="none" stroke="#6ab070" stroke-width="1.2"/>
<path d="M146 8.2A4.6 4.6 0 0 1 146.4 17.4" fill="none" stroke="#8cc090" stroke-width="1.1"/>
<circle cx="146" cy="12.6" r="1.7" fill="#2a58c8"/>
<path d="M146.5 13V20.5" stroke="#20a020" stroke-width="1.2"/>
<!-- hat + stop -->
<path d="M165.8 11.5L180.5 11.8L177.5 20.5L173.5 20.8Z" fill="#f0dc50" stroke="#c8a020" stroke-width="0.8"/>
<path d="M165.5 10.5Q165 8 169.5 8Q170.5 5 174 5.2Q177.5 5.2 178 8Q181.5 7.8 181 10Q180 12.3 173 12.3Q166 12.5 165.5 10.5Z" fill="#6ab8e8" stroke="#2a80b0" stroke-width="0.9"/>
<circle cx="177.3" cy="16.7" r="4.3" fill="#d82010" stroke="#a81008" stroke-width="0.8"/>
<rect x="175.8" y="15.2" width="3" height="3" fill="#fff"/>
<!-- CJK 自动交易 -->
<g fill="none" stroke="#111" stroke-width="1.15">
<g transform="translate(186,6)"><path d="M6 0L5 1.5M2.5 2.5H9.5V11.5H2.5ZM2.5 5.5H9.5M2.5 8.5H9.5"/></g>
<g transform="translate(198,6)"><path d="M1 1.5H5M0 4.5H6M3 4.5L0.5 10L5.5 9M4 7L5.5 9.5M6 3.5H11.5V10.5Q11.5 11.5 10 11M8.5 0.5V4Q8.5 8.5 6 11.5"/></g>
<g transform="translate(210,6)"><path d="M6 0V1.5M0 2.5H12M3.5 4L1.5 6M8.5 4L10.5 6M9 5.5Q6 10 0.5 11.5M3 5.5Q6 10 11.5 11.5"/></g>
<g transform="translate(222,6)"><path d="M3.5 0.5H9.5V5.5H3.5ZM3.5 3H9.5M3 7.5H11.5V11Q11.5 11.8 10 11.3M4.5 7.5L1 10.5M7 7.5L4 11.5M9.5 7.5L6.5 11.8"/></g>
</g>
<!-- chart type icons -->
<g fill="none" stroke="#555" stroke-width="1.2">
<path d="M259.5 21V8M257 18.5H270.5M287.5 21V8M285 18.5H298.5M315.5 21V8M313 18.5H326.5"/>
<path d="M439.5 21V8M437 18.5H450.5M467.5 21V8M465 18.5H478.5"/>
</g>
<g fill="#555">
<path d="M257.5 9L259.5 6.6L261.5 9ZM269.5 16.5L272 18.5L269.5 20.5ZM285.5 9L287.5 6.6L289.5 9ZM297.5 16.5L300 18.5L297.5 20.5ZM313.5 9L315.5 6.6L317.5 9ZM325.5 16.5L328 18.5L325.5 20.5Z"/>
<path d="M437.5 9L439.5 6.6L441.5 9ZM449.5 16.5L452 18.5L449.5 20.5ZM465.5 9L467.5 6.6L469.5 9ZM477.5 16.5L480 18.5L477.5 20.5Z"/>
</g>
<path d="M265.5 8.2V16.8M265.5 9.4H268.2M263 15.6H265.5" fill="none" stroke="#0a9a1a" stroke-width="1.2"/>
<path d="M293.5 5V17" stroke="#0a8a10" stroke-width="1.1"/>
<rect x="291.5" y="7.5" width="4" height="7" fill="#30e050" stroke="#0a8a10" stroke-width="1"/>
<path d="M314 15.6Q317 12 319.5 10.4Q321.5 9.6 323.5 11.8Q325 13.4 326 14" fill="none" stroke="#2a9a2a" stroke-width="1.1"/>
<path d="M444.3 9.2L448.2 12.5L444.3 15.9Z" fill="#60e060" stroke="#10a010" stroke-width="1"/>
<path d="M473.5 7V17" stroke="#1070c0" stroke-width="1.1"/>
<path d="M474.2 12.4L477 10.2V11.7H479.2V13.1H477V14.6Z" fill="#e05010"/>
<!-- zoom in/out -->
<path d="M354.5 14.5L360 19.8M382.5 14.5L388 19.8" stroke="#b89020" stroke-width="2.8"/>
<path d="M354.5 14.5L360 19.8M382.5 14.5L388 19.8" stroke="#e8d860" stroke-width="1.4"/>
<circle cx="351" cy="10.9" r="5.3" fill="#dff0fb" stroke="#3a82c8" stroke-width="1.1"/>
<circle cx="379.1" cy="10.9" r="5.3" fill="#dff0fb" stroke="#3a82c8" stroke-width="1.1"/>
<path d="M348 10.9H354M351 7.9V13.9M376.1 10.9H382.1" stroke="#4a88b8" stroke-width="1.6"/>
<!-- tile -->
<rect x="401" y="5" width="8" height="8" fill="#28a018"/><rect x="409" y="5" width="8" height="8" fill="#1a50d8"/>
<rect x="401" y="13" width="8" height="8" fill="#1a50d8"/><rect x="409" y="13" width="8" height="8" fill="#28a018"/>
<g fill="#fff"><rect x="402.5" y="8.5" width="5" height="3"/><rect x="410.5" y="8.5" width="5" height="3"/><rect x="402.5" y="16.5" width="5" height="3"/><rect x="410.5" y="16.5" width="5" height="3"/></g>
<!-- indicators doc + plus -->
<path d="M498.5 5.5H507L510.5 9V18.5H498.5Z" fill="#fff" stroke="#707070"/>
<path d="M501 15Q501 9 504 8.5" fill="none" stroke="#554" stroke-width="0.8"/>
<path d="M506 11.5h3v3.5h3.5v3h-3.5v3.5h-3v-3.5h-3.5v-3h3.5z" fill="#18d030" stroke="#0a8a10" stroke-width="1"/>
<!-- clock -->
<circle cx="544" cy="13" r="6.9" fill="#fff" stroke="#1468c8" stroke-width="2.4"/><circle cx="544" cy="13" r="8" fill="none" stroke="#0a50a8" stroke-width="0.6"/>
<path d="M543.5 9.5V13H547" fill="none" stroke="#222" stroke-width="1.1"/>
<!-- template -->
<rect x="575.5" y="6.5" width="15" height="13" fill="#fff" stroke="#3a78c8"/>
<rect x="576" y="7" width="14" height="2" fill="#5a9ae0"/>
<path d="M576 14H590" stroke="#3a78c8" stroke-width="0.8"/>
<path d="M577 12.5L579 12L581 11L583 11.5L585 11L587.5 10.7" fill="none" stroke="#a82010" stroke-width="1"/>
<path d="M577 17.5L579 17L580.5 16.5L582.5 17.3L584.5 15.3L586.5 17.5" fill="none" stroke="#20a020" stroke-width="1"/>
<!-- dropdown arrows -->
<g fill="#000">
<path d="M520 12H525.5L522.75 14.8Z"/><path d="M558.5 12H564L561.25 14.8Z"/><path d="M597.5 12H603L600.25 14.8Z"/><path d="M903.5 12H909L906.25 14.8Z"/>
</g>
<!-- cursor -->
<path d="M627.2 5.9V16.8L629.8 14.4L632 19.8L633.6 19.2L631.4 13.9L635 13.6Z" fill="#444"/>
<!-- crosshair -->
<path d="M652 13.5H657.5M661.5 13.5H667M659.5 6V11.5M659.5 15.5V20.8" stroke="#444" stroke-width="1.2"/>
<!-- lines -->
<path d="M693.5 7V20" stroke="#444" stroke-width="1.2"/>
<path d="M716 13.5H728" stroke="#444" stroke-width="1.2"/>
<path d="M744 20L756 7.7" stroke="#444" stroke-width="1"/>
<!-- channel -->
<path d="M770 14.8L777.8 6.8M775 19.8L784 10.8M773.5 11V18.5M776.5 8.5V16M781 5V14" fill="none" stroke="#444" stroke-width="1"/>
<text x="780.5" y="22" style="font-size:6.5px;font-weight:bold" fill="#333">E</text>
<!-- fibo -->
<g fill="#444">
<path d="M799 6h1v1h-1zM801 6h1v1h-1zM803 6h1v1h-1zM805 6h1v1h-1zM807 6h1v1h-1zM809 6h1v1h-1zM811 6h1v1h-1zM799 9h1v1h-1zM801 9h1v1h-1zM803 9h1v1h-1zM805 9h1v1h-1zM807 9h1v1h-1zM809 9h1v1h-1zM811 9h1v1h-1zM799 13h1v1h-1zM801 13h1v1h-1zM803 13h1v1h-1zM805 13h1v1h-1zM807 13h1v1h-1zM809 13h1v1h-1zM811 13h1v1h-1zM799 17h1v1h-1zM801 17h1v1h-1zM803 17h1v1h-1zM805 17h1v1h-1zM807 17h1v1h-1z"/>
</g>
<text x="808.5" y="22" style="font-size:6.5px;font-weight:bold" fill="#333">F</text>
<!-- A -->
<text x="829.5" y="18.2" style="font-size:12px;font-weight:bold" fill="#555">A</text>
<!-- T box -->
<path shape-rendering="crispEdges" fill="#555" d="M856 7h1v1h-1zM856 19h1v1h-1zM858 7h1v1h-1zM858 19h1v1h-1zM860 7h1v1h-1zM860 19h1v1h-1zM862 7h1v1h-1zM862 19h1v1h-1zM864 7h1v1h-1zM864 19h1v1h-1zM866 7h1v1h-1zM866 19h1v1h-1zM868 7h1v1h-1zM868 19h1v1h-1zM856 9h1v1h-1zM868 9h1v1h-1zM856 11h1v1h-1zM868 11h1v1h-1zM856 13h1v1h-1zM868 13h1v1h-1zM856 15h1v1h-1zM868 15h1v1h-1zM856 17h1v1h-1zM868 17h1v1h-1z"/>
<rect x="855" y="6" width="2" height="1.5" fill="#444"/>
<path d="M858.5 11H866M862.25 11V17.6" stroke="#555" stroke-width="1.6"/>
<!-- arrows icon -->
<path d="M886.5 6.8L890 10L886.5 11.6L883 10Z M893.5 20.2L897 17L893.5 15.4L890 17Z" fill="#555"/>
<path d="M885.4 13.6L888.5 16.4L892 11.5" fill="none" stroke="#555" stroke-width="1.3"/>
<!-- search -->
<circle cx="1646.6" cy="10.2" r="3.6" fill="#fff" stroke="#2058c8" stroke-width="1.3"/>
<path d="M1644.2 12.8L1639 18" stroke="#2058c8" stroke-width="2"/>
<!-- chat + badge -->
<ellipse cx="1668.5" cy="15" rx="6" ry="4.5" fill="#e0e0e8" stroke="#b0b0b0" stroke-width="0.8"/>
<path d="M1666 18.5L1666 21L1669 19" fill="#b0b0b0"/>
<circle cx="1677.5" cy="10.2" r="8.3" fill="#e03018"/>
<text x="1674.6" y="14.5" style="font-size:11px;font-weight:bold" fill="#fff">1</text>
</g>
</g>

<text x="930.0" y="17" fill="#3a3a3a" stroke="#3a3a3a" textLength="13.5" lengthAdjust="spacingAndGlyphs" transform="matrix(1 0 0 1.06 0 -1.020)">M1</text><text x="957.5" y="17" fill="#3a3a3a" stroke="#3a3a3a" textLength="14.5" lengthAdjust="spacingAndGlyphs" transform="matrix(1 0 0 1.06 0 -1.020)">M5</text><text x="984.0" y="17" fill="#3a3a3a" stroke="#3a3a3a" textLength="18.5" lengthAdjust="spacingAndGlyphs" transform="matrix(1 0 0 1.06 0 -1.020)">M15</text><text x="1011.5" y="17" fill="#3a3a3a" stroke="#3a3a3a" textLength="19" lengthAdjust="spacingAndGlyphs" transform="matrix(1 0 0 1.06 0 -1.020)">M30</text><text x="1043.0" y="17" fill="#3a3a3a" stroke="#3a3a3a" textLength="12.5" lengthAdjust="spacingAndGlyphs" transform="matrix(1 0 0 1.06 0 -1.020)">H1</text><text x="1070.0" y="17" fill="#3a3a3a" stroke="#3a3a3a" textLength="13.5" lengthAdjust="spacingAndGlyphs" transform="matrix(1 0 0 1.06 0 -1.020)">H4</text><text x="1099.0" y="17" fill="#3a3a3a" stroke="#3a3a3a" textLength="13" lengthAdjust="spacingAndGlyphs" transform="matrix(1 0 0 1.06 0 -1.020)">D1</text><text x="1126.5" y="17" fill="#3a3a3a" stroke="#3a3a3a" textLength="15" lengthAdjust="spacingAndGlyphs" transform="matrix(1 0 0 1.06 0 -1.020)">W1</text><text x="1153.0" y="17" fill="#3a3a3a" stroke="#3a3a3a" textLength="16" lengthAdjust="spacingAndGlyphs" transform="matrix(1 0 0 1.06 0 -1.020)">MN</text>
</svg>
</body></html>
